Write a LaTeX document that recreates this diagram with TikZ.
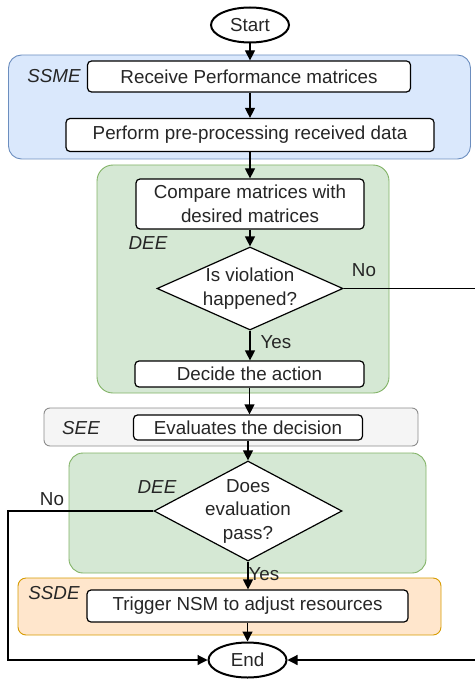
\documentclass[tikz,border=0pt]{standalone}
\usepackage{fontspec}
\setmainfont{Liberation Sans}
\usetikzlibrary{shapes.geometric,arrows.meta}
\definecolor{bluefill}{HTML}{DAE8FC}
\definecolor{bluedraw}{HTML}{6C8EBF}
\definecolor{greenfill}{HTML}{D5E8D4}
\definecolor{greendraw}{HTML}{82B366}
\definecolor{grayfill}{HTML}{F5F5F5}
\definecolor{graydraw}{HTML}{8C8C8C}
\definecolor{orangefill}{HTML}{FFE6CC}
\definecolor{orangedraw}{HTML}{D79B00}
\tikzset{
  every node/.style={font=\fontsize{18.8}{23.5}\selectfont, text=black!85},
  container/.style={draw, rectangle, rounded corners=13pt, line width=0.9pt, inner sep=0pt},
  procbox/.style={draw, rectangle, rounded corners=4pt, fill=white, line width=1.2pt, inner sep=0pt, align=center},
  terminal/.style={draw, ellipse, fill=white, line width=2pt, inner sep=0pt, minimum width=78pt, minimum height=35pt},
  decision/.style={draw, diamond, fill=white, line width=1.2pt, inner sep=0pt},
  tag/.style={font=\fontsize{18.8}{23.5}\selectfont\itshape},
  flow/.style={line width=1.2pt, -{Triangle[length=10pt,width=10pt]}},
  plainline/.style={line width=1.2pt}
}
\begin{document}
\begin{tikzpicture}[x=1pt,y=-1pt]
\useasboundingbox (0,0) rectangle (474,679);
% containers
\node[container, fill=bluefill, draw=bluedraw, minimum width=462pt, minimum height=104pt] (ssme) at (239.5,107) {};
\node[container, fill=greenfill, draw=greendraw, minimum width=292pt, minimum height=228pt, rounded corners=16pt] (dee1) at (243,279) {};
\node[container, fill=grayfill, draw=graydraw, minimum width=374pt, minimum height=38pt, rounded corners=6pt] (see) at (231,427) {};
\node[container, fill=greenfill, draw=greendraw, minimum width=357pt, minimum height=120pt, rounded corners=14pt] (dee2) at (247.5,513) {};
\node[container, fill=orangefill, draw=orangedraw, minimum width=423pt, minimum height=57pt, rounded corners=8pt] (ssde) at (229.5,606.5) {};
% container tags
\node[tag] (tssme) at (54,76) {SSME};
\node[tag] (tdee1) at (148,243) {DEE};
\node[tag] (tsee) at (81,428) {SEE};
\node[tag] (tdee2) at (157,487) {DEE};
\node[tag] (tssde) at (54,593) {SSDE};
% flow nodes
\node[terminal] (start) at (250,25) {Start};
\node[procbox, minimum width=323pt, minimum height=31pt] (receive) at (249,76.5) {Receive Performance matrices};
\node[procbox, minimum width=368pt, minimum height=33pt] (perform) at (250,135) {Perform pre-processing received data};
\node[procbox, minimum width=228pt, minimum height=50pt] (compare) at (250,204) {Compare matrices with\\desired matrices};
\node[decision, minimum width=186pt, minimum height=83pt, label={[align=center]center:Is violation\\happened?}] (viol) at (250,288.5) {};
\node[procbox, minimum width=229pt, minimum height=26pt] (decide) at (249.5,374) {Decide the action};
\node[procbox, minimum width=229pt, minimum height=25pt] (evaluate) at (248,427.5) {Evaluates the decision};
\node[decision, minimum width=188pt, minimum height=100pt, label={[align=center]center:Does\\evaluation\\pass?}] (pass) at (248,511) {};
\node[procbox, minimum width=321pt, minimum height=32pt] (trigger) at (247.5,606) {Trigger NSM to adjust resources};
\node[terminal] (end) at (247.5,660) {End};
% connectors
\draw[flow] (start) -- (start |- receive.north);
\draw[flow] (receive.south -| perform.north) -- (perform.north);
\draw[flow] (perform.south) -- (perform.south |- compare.north);
\draw[flow] (compare.south) -- (compare.south |- viol.north);
\draw[flow] (viol.south) -- (viol.south |- decide.north);
\draw[flow] (decide.south) -- (decide.south |- evaluate.north);
\draw[flow] (evaluate.south) -- (evaluate.south |- pass.north);
\draw[flow] (pass.south) -- (pass.south |- trigger.north);
\draw[flow] (trigger.south) -- (trigger.south |- end.north);
\coordinate (rightrail) at (476,288.5);
\coordinate (leftrail) at (8,511);
\draw[flow] (viol.east) -- (rightrail) |- (end.east);
\draw[flow] (pass.west) -- (leftrail) |- (end.west);
% branch labels
\node (no1) at (364,270) {No};
\node (yes1) at (276,342) {Yes};
\node (no2) at (52,499) {No};
\node (yes2) at (264,574) {Yes};
\end{tikzpicture}
\end{document}
